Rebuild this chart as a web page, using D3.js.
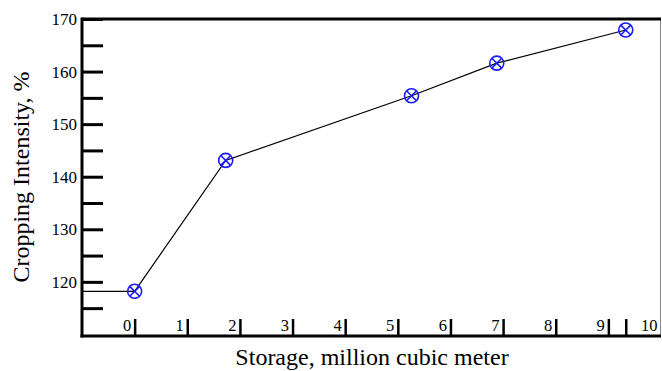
<!DOCTYPE html>
<html><head><meta charset="utf-8">
<script src="https://cdn.jsdelivr.net/npm/d3@7"></script>
<style>body{margin:0;background:#fff}svg{display:block}</style>
</head><body>
<svg id="c" width="662" height="371"></svg>
<script>
const storage = [0, 1.73, 5.26, 6.88, 9.33];
const intensity = [118.2, 143.1, 155.4, 161.6, 167.9];
const yTicks = [115, 120, 125, 130, 135, 140, 145, 150, 155, 160, 165, 170];
const yLabels = [120, 130, 140, 150, 160, 170];
const xTicks = [0, 1, 2, 3, 4, 5, 6, 7, 8, 9, 9.33];
const xLabels = [0, 1, 2, 3, 4, 5, 6, 7, 8, 9, 10];

const svg = d3.select("#c");
const L = 82, R = 661, T = 19, B = 336;
const x = d3.scaleLinear().domain([-1, 10]).range([L, R]);
const y = d3.scaleLinear().domain([109.7, 170]).range([B, T]);
const font = "Liberation Serif, Times New Roman, serif";

// frame
svg.append("line").attr("x1", R - 0.5).attr("x2", R - 0.5).attr("y1", T).attr("y2", B)
  .attr("stroke", "#888").attr("stroke-width", 1);
svg.append("line").attr("x1", L).attr("x2", R).attr("y1", T).attr("y2", T)
  .attr("stroke", "#000").attr("stroke-width", 3);

// y axis
const yAxis = d3.axisRight(y).tickValues(yTicks).tickSize(21).tickFormat("");
const gy = svg.append("g").attr("transform", `translate(${L},0)`).call(yAxis);
gy.select(".domain").remove();
gy.selectAll(".tick line").attr("stroke", "#000").attr("stroke-width", 3);
svg.append("line").attr("x1", L).attr("x2", L).attr("y1", T - 1.5).attr("y2", B + 1.5)
  .attr("stroke", "#000").attr("stroke-width", 3);
svg.append("g").selectAll("text").data(yLabels).join("text")
  .attr("x", L - 5).attr("y", d => y(d)).attr("dy", "0.35em")
  .attr("text-anchor", "end").style("font-family", font).style("font-size", "17px")
  .text(d => d);

// x axis
const xAxis = d3.axisTop(x).tickValues(xTicks).tickSize(17).tickFormat("");
const gx = svg.append("g").attr("transform", `translate(0,${B})`).call(xAxis);
gx.select(".domain").remove();
gx.selectAll(".tick line").attr("stroke", "#000").attr("stroke-width", 2.5);
svg.append("line").attr("x1", L - 1.5).attr("x2", R).attr("y1", B).attr("y2", B)
  .attr("stroke", "#000").attr("stroke-width", 3);
svg.append("g").selectAll("text").data(xLabels).join("text")
  .attr("x", d => x(d) - 3.5).attr("y", B - 5)
  .attr("text-anchor", "end").style("font-family", font).style("font-size", "16.5px")
  .text(d => d);

// titles
svg.append("text").attr("x", 372).attr("y", 365).attr("text-anchor", "middle")
  .style("font-family", font).style("font-size", "24px").text("Storage, million cubic meter");
svg.append("text").attr("transform", "translate(29,177) rotate(-90)").attr("text-anchor", "middle")
  .style("font-family", font).style("font-size", "24px").text("Cropping Intensity, %");

// line
const pts = storage.map((s, i) => [s, intensity[i]]);
svg.append("line").attr("x1", x(-1)).attr("x2", x(storage[0]))
  .attr("y1", y(intensity[0])).attr("y2", y(intensity[0]))
  .attr("stroke", "#000").attr("stroke-width", 1.2);
svg.append("path").datum(pts)
  .attr("d", d3.line().x(d => x(d[0])).y(d => y(d[1])))
  .attr("fill", "none").attr("stroke", "#000").attr("stroke-width", 1.2);

// markers
const r = 7, k = r * Math.SQRT1_2;
const m = svg.append("g").selectAll("g").data(pts).join("g")
  .attr("transform", d => `translate(${x(d[0])},${y(d[1])})`);
m.append("circle").attr("r", r).attr("fill", "none").attr("stroke", "#1a1aff").attr("stroke-width", 1.6);
m.append("path").attr("d", `M${-k},${-k}L${k},${k}M${-k},${k}L${k},${-k}`)
  .attr("stroke", "#1a1aff").attr("stroke-width", 1.6);
</script>
</body></html>
